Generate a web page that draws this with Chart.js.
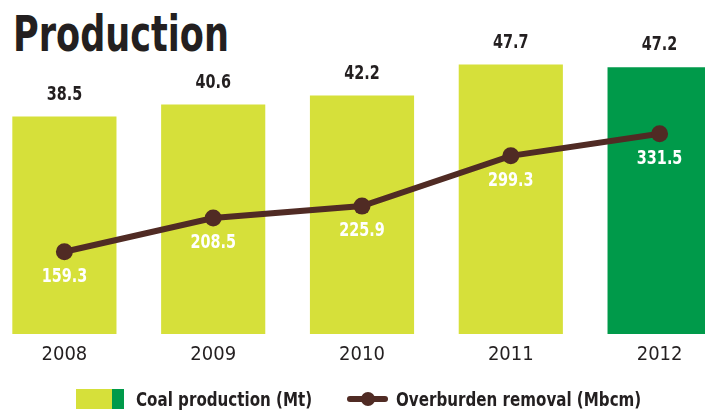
<!DOCTYPE html>
<html>
<head>
<meta charset="utf-8">
<script src="https://cdn.jsdelivr.net/npm/chart.js@4.4.0/dist/chart.umd.min.js"></script>
<style>
  html, body { margin: 0; padding: 0; background: #fff; overflow: hidden; }
  body { width: 705px; height: 410px; position: relative; font-family: "DejaVu Sans Condensed", "DejaVu Sans", sans-serif; color: #231f20; }
  #titre { position: absolute; left: 13px; top: 9px; font-size: 50px; line-height: 50px; font-weight: bold; transform: scaleX(0.78); transform-origin: 0 0; white-space: nowrap; }
  #wrap { position: absolute; left: -10px; top: 0; width: 744px; height: 410px; }
  .leg { position: absolute; top: 389px; height: 20px; font-size: 20px; font-weight: bold; line-height: 20px; white-space: nowrap; }
  .txt { transform: scaleX(0.84); transform-origin: 0 50%; }
</style>
</head>
<body>
<div id="titre">Production</div>
<div id="wrap"><canvas id="grafico"></canvas></div>

<div class="leg" style="left:76px;width:36px;background:#d6e03a;"></div>
<div class="leg" style="left:112px;width:12px;background:#009a4a;"></div>
<div class="leg txt" style="left:136px;">Coal production (Mt)</div>
<div style="position:absolute;left:347px;top:396px;width:41px;height:6px;background:#502b24;border-radius:3px;"></div>
<div style="position:absolute;left:361px;top:392px;width:14px;height:14px;background:#502b24;border-radius:50%;"></div>
<div class="leg txt" style="left:396px;">Overburden removal (Mbcm)</div>

<script>
var anos = ["2008", "2009", "2010", "2011", "2012"];
var carvao = [38.5, 40.6, 42.2, 47.7, 47.2];
var remocao = [159.3, 208.5, 225.9, 299.3, 331.5];

var corBarras = ["#d6e03a", "#d6e03a", "#d6e03a", "#d6e03a", "#009a4a"];

// escreve o texto apertado na horizontal (fonte condensada)
function textoEstreito(ctx, txt, x, y) {
  ctx.save();
  ctx.translate(x, y);
  ctx.scale(0.8, 1);
  ctx.fillText(txt, 0, 0);
  ctx.restore();
}

// rótulos de valor em cima das barras e embaixo dos pontos
var rotulos = {
  id: "rotulos",
  afterDatasetsDraw: function (chart) {
    var ctx = chart.ctx;
    ctx.save();
    ctx.font = "bold 20px 'DejaVu Sans Condensed', 'DejaVu Sans', sans-serif";
    ctx.textAlign = "center";
    ctx.textBaseline = "middle";

    var barras = chart.getDatasetMeta(0).data;
    ctx.fillStyle = "#231f20";
    barras.forEach(function (b, i) {
      textoEstreito(ctx, carvao[i].toFixed(1), b.x, b.y - 22);
    });

    var pontos = chart.getDatasetMeta(1).data;
    ctx.fillStyle = "#ffffff";
    pontos.forEach(function (p, i) {
      textoEstreito(ctx, remocao[i].toFixed(1), p.x, p.y + 25);
    });
    ctx.restore();
  }
};

var ctx = document.getElementById("grafico").getContext("2d");
var myChart = new Chart(ctx, {
  type: "bar",
  data: {
    labels: anos,
    datasets: [
      {
        type: "bar",
        data: carvao,
        backgroundColor: corBarras,
        borderWidth: 0,
        categoryPercentage: 1,
        barPercentage: 0.7,
        yAxisID: "y",
        order: 2
      },
      {
        type: "line",
        data: remocao,
        borderColor: "#502b24",
        backgroundColor: "#502b24",
        borderWidth: 6,
        pointRadius: 8.5,
        pointHoverRadius: 8.5,
        pointBorderWidth: 0,
        tension: 0,
        yAxisID: "y2",
        order: 1
      }
    ]
  },
  options: {
    responsive: true,
    maintainAspectRatio: false,
    animation: false,
    layout: { autoPadding: false, padding: { top: 60, left: 0, right: 0, bottom: 34 } },
    plugins: {
      legend: { display: false },
      tooltip: { enabled: false },
      title: { display: false }
    },
    scales: {
      x: {
        grid: { display: false, drawTicks: false },
        border: { display: false },
        ticks: {
          padding: 9,
          color: "#231f20",
          font: { family: "'DejaVu Sans Condensed', 'DejaVu Sans', sans-serif", size: 20 }
        }
      },
      y: { display: false, min: 0, max: 48.49 },
      y2: { display: false, min: 39.3, max: 439.1 }
    }
  },
  plugins: [rotulos]
});
</script>
</body>
</html>
